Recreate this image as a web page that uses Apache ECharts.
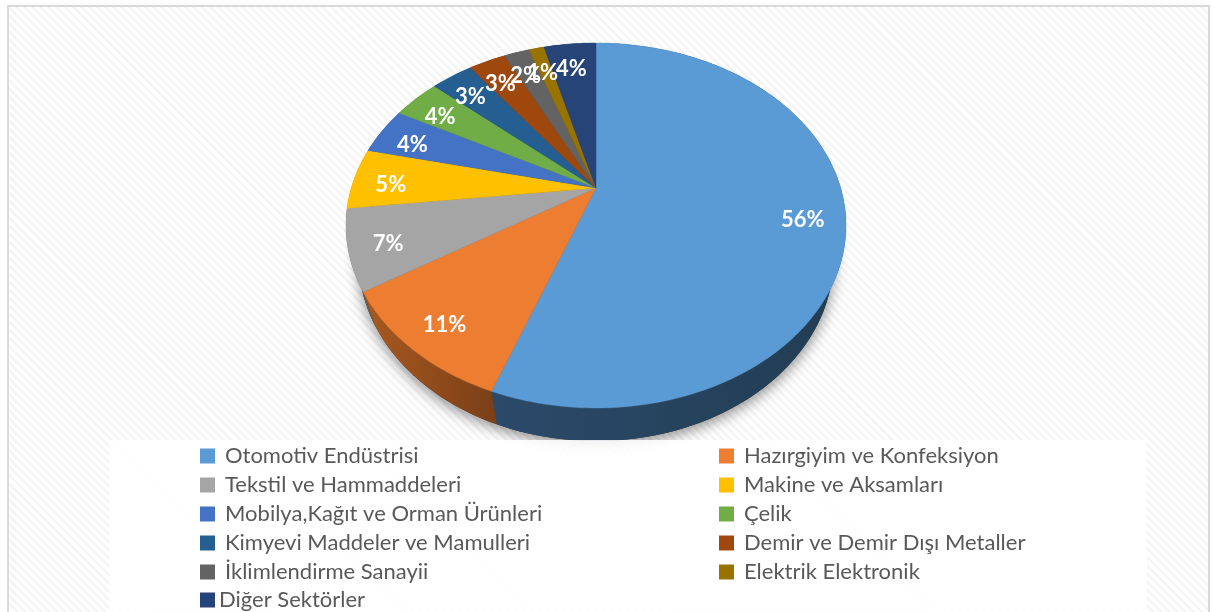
<!DOCTYPE html>
<html>
<head>
<meta charset="utf-8">
<style>
  html, body { margin: 0; padding: 0; background: #fff; overflow: hidden; }
  #frame {
    position: absolute; left: 7px; top: 5px; width: 1199px; height: 607px;
    border: 2px solid #d9d9d9; border-bottom: 0;
    background: repeating-linear-gradient(45deg, #f5f5f5 0, #f5f5f5 2.8px, #fff 2.8px, #fff 5.7px);
  }
  #chart { position: absolute; left: 0; top: 0; width: 1215px; height: 612px; }
</style>
</head>
<body>
<div id="frame"></div>
<div id="chart"></div>
<script src="https://cdn.jsdelivr.net/npm/echarts@6/dist/echarts.min.js"></script>
<script>
const sectors = ['Otomotiv Endüstrisi', 'Hazırgiyim ve Konfeksiyon', 'Tekstil ve Hammaddeleri', 'Makine ve Aksamları',
  'Mobilya,Kağıt ve Orman Ürünleri', 'Çelik', 'Kimyevi Maddeler ve Mamulleri', 'Demir ve Demir Dışı Metaller',
  'İklimlendirme Sanayii', 'Elektrik Elektronik', 'Diğer Sektörler']
const shares = [55.6, 10.5, 7.1, 5.4, 4.2, 3.7, 3.3, 2.9, 2.0, 1.2, 4.1]
const colors = ['#5b9bd5', '#ed7d31', '#a5a5a5', '#ffc000', '#4472c4', '#70ad47', '#255e91', '#9e480e', '#636363', '#997300', '#264478']
const wallColors = [['#2b4a6a', '#223d53'], ['#a9591f', '#7a3f18'], ['#63615f', '#63615f'], ['#997300', '#997300'], ['#29447a', '#29447a'],
  ['#43682b', '#43682b'], ['#163857', '#163857'], ['#5f2b08', '#5f2b08'], ['#3b3b3b', '#3b3b3b'], ['#5c4500', '#5c4500'], ['#17294a', '#17294a']]

const leftLegend = sectors.filter((s, i) => i % 2 === 0 && i < 10)
const rightLegend = sectors.filter((s, i) => i % 2 === 1)
const lastLegend = [sectors[10]]

// tilted disc: perspective projection of the unit circle
const cx = 596, cy = 188, tilt = 0.2055, scaleX = 244.7, scaleY = 174.8
const depth = 33, wallShrink = 0.95

function project(angle, r, lower) {
  const u = Math.sin(angle) * r
  const v = Math.cos(angle) * r
  const d = 1 + tilt * v
  const s = lower ? wallShrink : 1
  return [cx + s * scaleX * u / d, cy - scaleY * v / d + (lower ? depth : 0)]
}

function arc(a0, a1, lower) {
  const steps = Math.max(2, Math.ceil((a1 - a0) / 0.02))
  const pts = []
  for (let i = 0; i <= steps; i++) pts.push(project(a0 + (a1 - a0) * i / steps, 1, lower))
  return pts
}

const total = shares.reduce((a, b) => a + b, 0)
let running = 0
const starts = shares.map(v => { const s = running; running += v; return s })
const toAngle = v => v / total * Math.PI * 2

function renderSlice(params, api) {
  const i = params.seriesIndex
  const a0 = toAngle(api.value(0))
  const a1 = toAngle(api.value(0) + api.value(1))
  const top = arc(a0, a1, false)
  const bottom = arc(a0, a1, true).reverse()
  const mid = (a0 + a1) / 2
  const pos = project(mid, 0.84, false)
  const children = []
  if (i === 0) {
    children.push({
      type: 'polygon', z2: 0,
      shape: { points: arc(0, Math.PI * 2, true) },
      style: { fill: '#333', shadowBlur: 14, shadowColor: 'rgba(0,0,0,0.45)', shadowOffsetY: 4 }
    })
  }
  children.push({
    type: 'polygon', z2: 1,
    shape: { points: top.concat(bottom) },
    style: {
      fill: new echarts.graphic.LinearGradient(0, 0, 1, 0, [
        { offset: 0, color: wallColors[i][0] }, { offset: 1, color: wallColors[i][1] }
      ])
    }
  })
  children.push({
    type: 'polygon', z2: 20,
    shape: { points: [[cx, cy]].concat(top) },
    style: { fill: colors[i], stroke: colors[i], lineWidth: 0.4 }
  })
  children.push({
    type: 'text', z2: 40 + i,
    style: {
      text: Math.round(api.value(1)) + '%',
      x: pos[0] - 2, y: pos[1] + 5,
      align: 'center', verticalAlign: 'middle',
      fill: '#fff', font: 'bold 22px Lato'
    }
  })
  return { type: 'group', children }
}

const legendBase = {
  orient: 'vertical', icon: 'rect', itemWidth: 15, itemHeight: 15, itemGap: 7, padding: 0, selectedMode: false,
  textStyle: { color: '#595959', fontFamily: 'Lato', fontSize: 22, lineHeight: 22, padding: [0, 0, 0, 5] }
}

const chart = echarts.init(document.getElementById('chart'), null, { renderer: 'canvas' })
chart.setOption({
  animation: false,
  backgroundColor: 'transparent',
  graphic: [{
    type: 'rect', z: 3, silent: true,
    shape: { x: 109, y: 440, width: 1038, height: 172 },
    style: { fill: 'rgba(255,255,255,0.88)' }
  }],
  legend: [
    Object.assign({}, legendBase, { left: 200, top: 445, z: 5, data: leftLegend }),
    Object.assign({}, legendBase, { left: 719, top: 445, z: 5, data: rightLegend }),
    Object.assign({}, legendBase, { left: 200, top: 589, z: 5, data: lastLegend,
      textStyle: Object.assign({}, legendBase.textStyle, { padding: [0, 0, 0, -1] }) })
  ],
  series: sectors.map((name, i) => ({
    type: 'custom',
    name,
    coordinateSystem: 'none',
    z: 2,
    color: colors[i],
    itemStyle: { color: colors[i] },
    renderItem: renderSlice,
    data: [[starts[i], shares[i]]]
  }))
})
</script>
</body>
</html>
